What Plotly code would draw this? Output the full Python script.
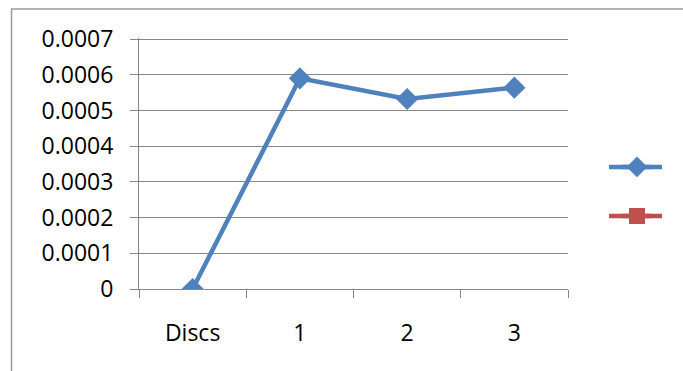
import plotly.graph_objects as go

# ---- data ----
categories = ["Discs", "1", "2", "3"]
series1_values = [0.0, 0.00059, 0.000532, 0.000564]
series2_values = [None, None, None, None]
y_tick_values = [0, 0.0001, 0.0002, 0.0003, 0.0004, 0.0005, 0.0006, 0.0007]
y_tick_labels = ["0", "0.0001", "0.0002", "0.0003", "0.0004", "0.0005", "0.0006", "0.0007"]
y_range = [0, 0.000703]

BLUE = "#4F81BD"
RED = "#C0504D"
GRID = "#878787"
FONT = dict(family="Open Sans", size=23, color="#000000")

fig = go.Figure()
fig.add_trace(go.Scatter(
    x=categories, y=series1_values, mode="lines+markers", name=" ",
    line=dict(color=BLUE, width=4.5),
    marker=dict(symbol="diamond", size=17, color=BLUE),
    legend="legend", showlegend=True,
))
fig.add_trace(go.Scatter(
    x=categories, y=series2_values, mode="lines+markers", name=" ",
    line=dict(color=RED, width=4.5),
    marker=dict(symbol="square", size=16, color=RED),
    legend="legend2", showlegend=True,
))

L, R, T, B = 139, 115, 38, 82
W, H = 683, 371
pw, ph = W - L - R, H - T - B

def px_x(p):
    return (p - L) / pw

def px_y(p):
    return (H - B - p) / ph

# legend key lines (Excel draws longer key lines than Plotly)
key_shapes = []
for yy, col in ((167, BLUE), (216, RED)):
    key_shapes.append(dict(
        type="line", xref="paper", yref="paper",
        x0=px_x(609), x1=px_x(662), y0=px_y(yy), y1=px_y(yy),
        line=dict(color=col, width=4.5),
    ))

fig.update_layout(
    width=W, height=H,
    showlegend=True,
    margin=dict(l=L, r=R, t=T, b=B, pad=0),
    paper_bgcolor="white", plot_bgcolor="white",
    font=FONT,
    xaxis=dict(
        type="category", range=[-0.5, 3.5], tickson="boundaries",
        ticks="outside", ticklen=8, tickcolor=GRID, tickwidth=1,
        showline=True, linecolor=GRID, linewidth=1,
        showgrid=False, zeroline=False,
        ticklabelstandoff=23, tickfont=FONT,
    ),
    yaxis=dict(
        range=y_range, tickvals=y_tick_values, ticktext=y_tick_labels,
        ticks="outside", ticklen=8, tickcolor=GRID, tickwidth=1,
        showline=True, linecolor=GRID, linewidth=1,
        showgrid=True, gridcolor=GRID, gridwidth=1,
        zeroline=False, ticklabelstandoff=12, tickfont=FONT,
    ),
    legend=dict(x=px_x(617), y=px_y(167), xanchor="left", yanchor="middle",
                bgcolor="rgba(0,0,0,0)", font=FONT),
    legend2=dict(x=px_x(617), y=px_y(216), xanchor="left", yanchor="middle",
                 bgcolor="rgba(0,0,0,0)", font=FONT),
    shapes=[dict(
        type="rect", xref="paper", yref="paper",
        x0=px_x(11.5), x1=px_x(700), y0=px_y(400), y1=px_y(9),
        line=dict(color="#9a9a9a", width=1.5), fillcolor="rgba(0,0,0,0)",
        layer="below",
    )] + key_shapes,
)

fig.write_html("out.html")
